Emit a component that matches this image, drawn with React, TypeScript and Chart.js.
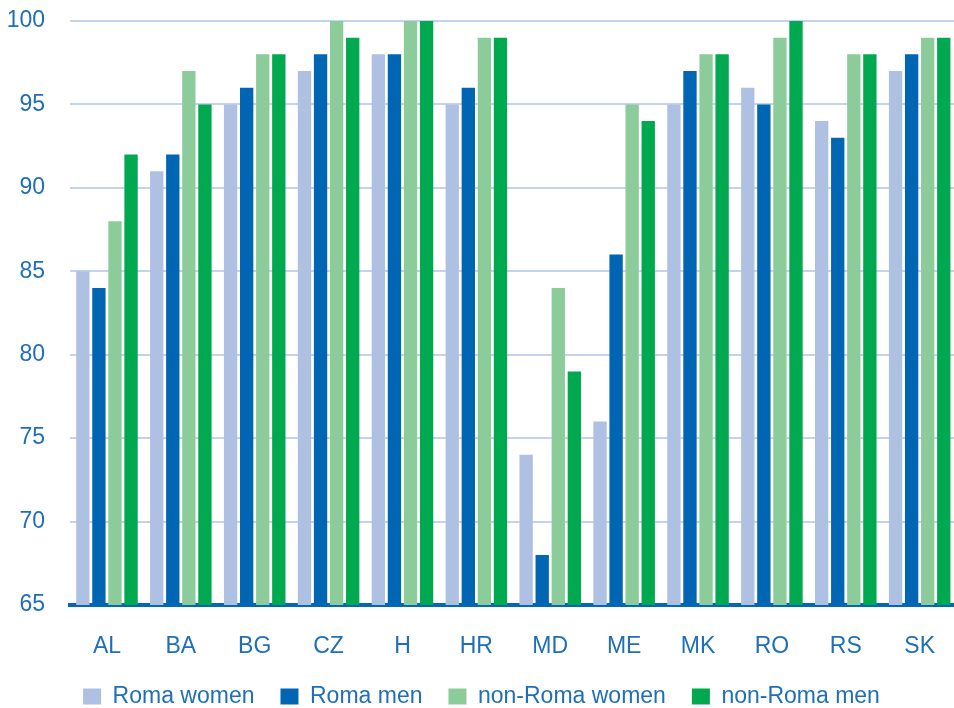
import React, { useEffect, useRef } from "react";
import { Chart, registerables } from "chart.js";

Chart.register(...registerables);

const categories = ["AL", "BA", "BG", "CZ", "H", "HR", "MD", "ME", "MK", "RO", "RS", "SK"];
const romaWomen = [85, 91, 95, 97, 98, 95, 74, 76, 95, 96, 94, 97];
const romaMen = [84, 92, 96, 98, 98, 96, 68, 86, 97, 95, 93, 98];
const nonRomaWomen = [88, 97, 98, 100, 100, 99, 84, 95, 98, 99, 98, 99];
const nonRomaMen = [92, 95, 98, 99, 100, 99, 79, 94, 98, 100, 98, 99];
const seriesNames = ["Roma women", "Roma men", "non-Roma women", "non-Roma men"];
const yMin = 65;
const yMax = 100;
const yStep = 5;

const colors = ["#afc1e3", "#0066b3", "#8ccc9b", "#00a84f"];
const textColor = "#1f6fb8";
const fontFamily = "'Liberation Sans', Arial, sans-serif";

export default function App() {
  const ref = useRef<HTMLCanvasElement | null>(null);
  useEffect(() => {
    if (!ref.current) return;
    const data = [romaWomen, romaMen, nonRomaWomen, nonRomaMen];
    const chart = new Chart(ref.current, {
      type: "bar",
      data: {
        labels: categories,
        datasets: data.map((d, i) => ({
          label: seriesNames[i],
          data: d,
          backgroundColor: colors[i],
          borderWidth: 0,
          barPercentage: 0.83,
          categoryPercentage: 0.87,
        })),
      },
      options: {
        responsive: false,
        animation: false,
        layout: { padding: { top: 21, left: 0, right: 0, bottom: 0 } },
        plugins: {
          tooltip: { enabled: false },
          legend: {
            position: "bottom",
            labels: {
              boxWidth: 18,
              boxHeight: 16,
              padding: 26,
              color: textColor,
              font: { family: fontFamily, size: 23 },
            },
          },
        },
        scales: {
          x: {
            grid: { display: false, drawTicks: false },
            border: { display: true, color: "#0566b4", width: 4 },
            ticks: { color: textColor, font: { family: fontFamily, size: 23 }, padding: 28 },
            afterFit: (s: any) => {
              s.height = 54;
            },
          },
          y: {
            min: yMin,
            max: yMax,
            grid: { color: "#c5d2ee", lineWidth: 2, drawTicks: false },
            border: { display: false },
            ticks: {
              stepSize: yStep,
              color: textColor,
              padding: 25,
              font: { family: fontFamily, size: 23 },
            },
            afterFit: (s: any) => {
              s.width = 70;
              s.paddingTop = 0;
              s.paddingBottom = 0;
            },
          },
        },
      },
    });
    return () => chart.destroy();
  }, []);
  return (
    <div
      style={{
        position: "fixed",
        left: 0,
        top: 0,
        width: 954,
        height: 708,
        overflow: "hidden",
        background: "#fff",
      }}
    >
      <canvas ref={ref} width={963} height={718} style={{ display: "block" }} />
    </div>
  );
}
